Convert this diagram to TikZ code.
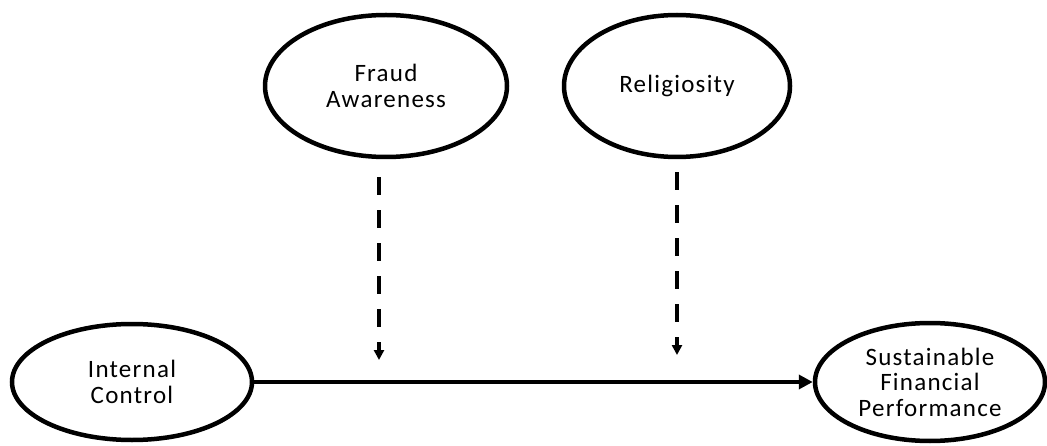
\documentclass[tikz,border=0pt]{standalone}
\usepackage{fontspec}
\setmainfont{Carlito}[LetterSpace=5]
\usetikzlibrary{shapes.geometric,arrows.meta}
\tikzset{
  construct/.style={ellipse, draw, line width=4.5pt, inner sep=0pt,
    align=center, font=\fontsize{25}{25.5}\selectfont},
  mainarrow/.style={line width=3.8pt, -{Triangle[length=14pt,width=14pt]}},
  modarrow/.style={line width=4.2pt, dash pattern=on 18pt off 15pt,
    -{Triangle[length=10pt,width=10pt]}}
}
\begin{document}
\begin{tikzpicture}[x=1pt, y=1pt]
  % Khung
  \useasboundingbox (0, 0) rectangle (1047, 445);
  % Cac bien
  \node[construct, minimum width=242pt, minimum height=142pt] (fraud) at (386, 359) {Fraud\\Awareness};
  \node[construct, minimum width=226pt, minimum height=142pt] (relig) at (677, 359) {Religiosity};
  \node[construct, minimum width=240pt, minimum height=116pt] (ic) at (132, 63) {Internal\\Control};
  \node[construct, minimum width=230pt, minimum height=118pt] (sfp) at (930, 63) {Sustainable\\Financial\\Performance};
  % Duong chinh
  \draw[mainarrow] (ic) -- (sfp);
  % Bien dieu tiet
  \coordinate (fa-end) at (379, 63);
  \coordinate (re-end) at (677, 63);
  \draw[modarrow, shorten <=18pt, shorten >=22pt] (fraud.south -| fa-end) -- (fa-end);
  \draw[modarrow, shorten <=13pt, shorten >=27pt] (relig.south) -- (re-end);
\end{tikzpicture}
\end{document}
